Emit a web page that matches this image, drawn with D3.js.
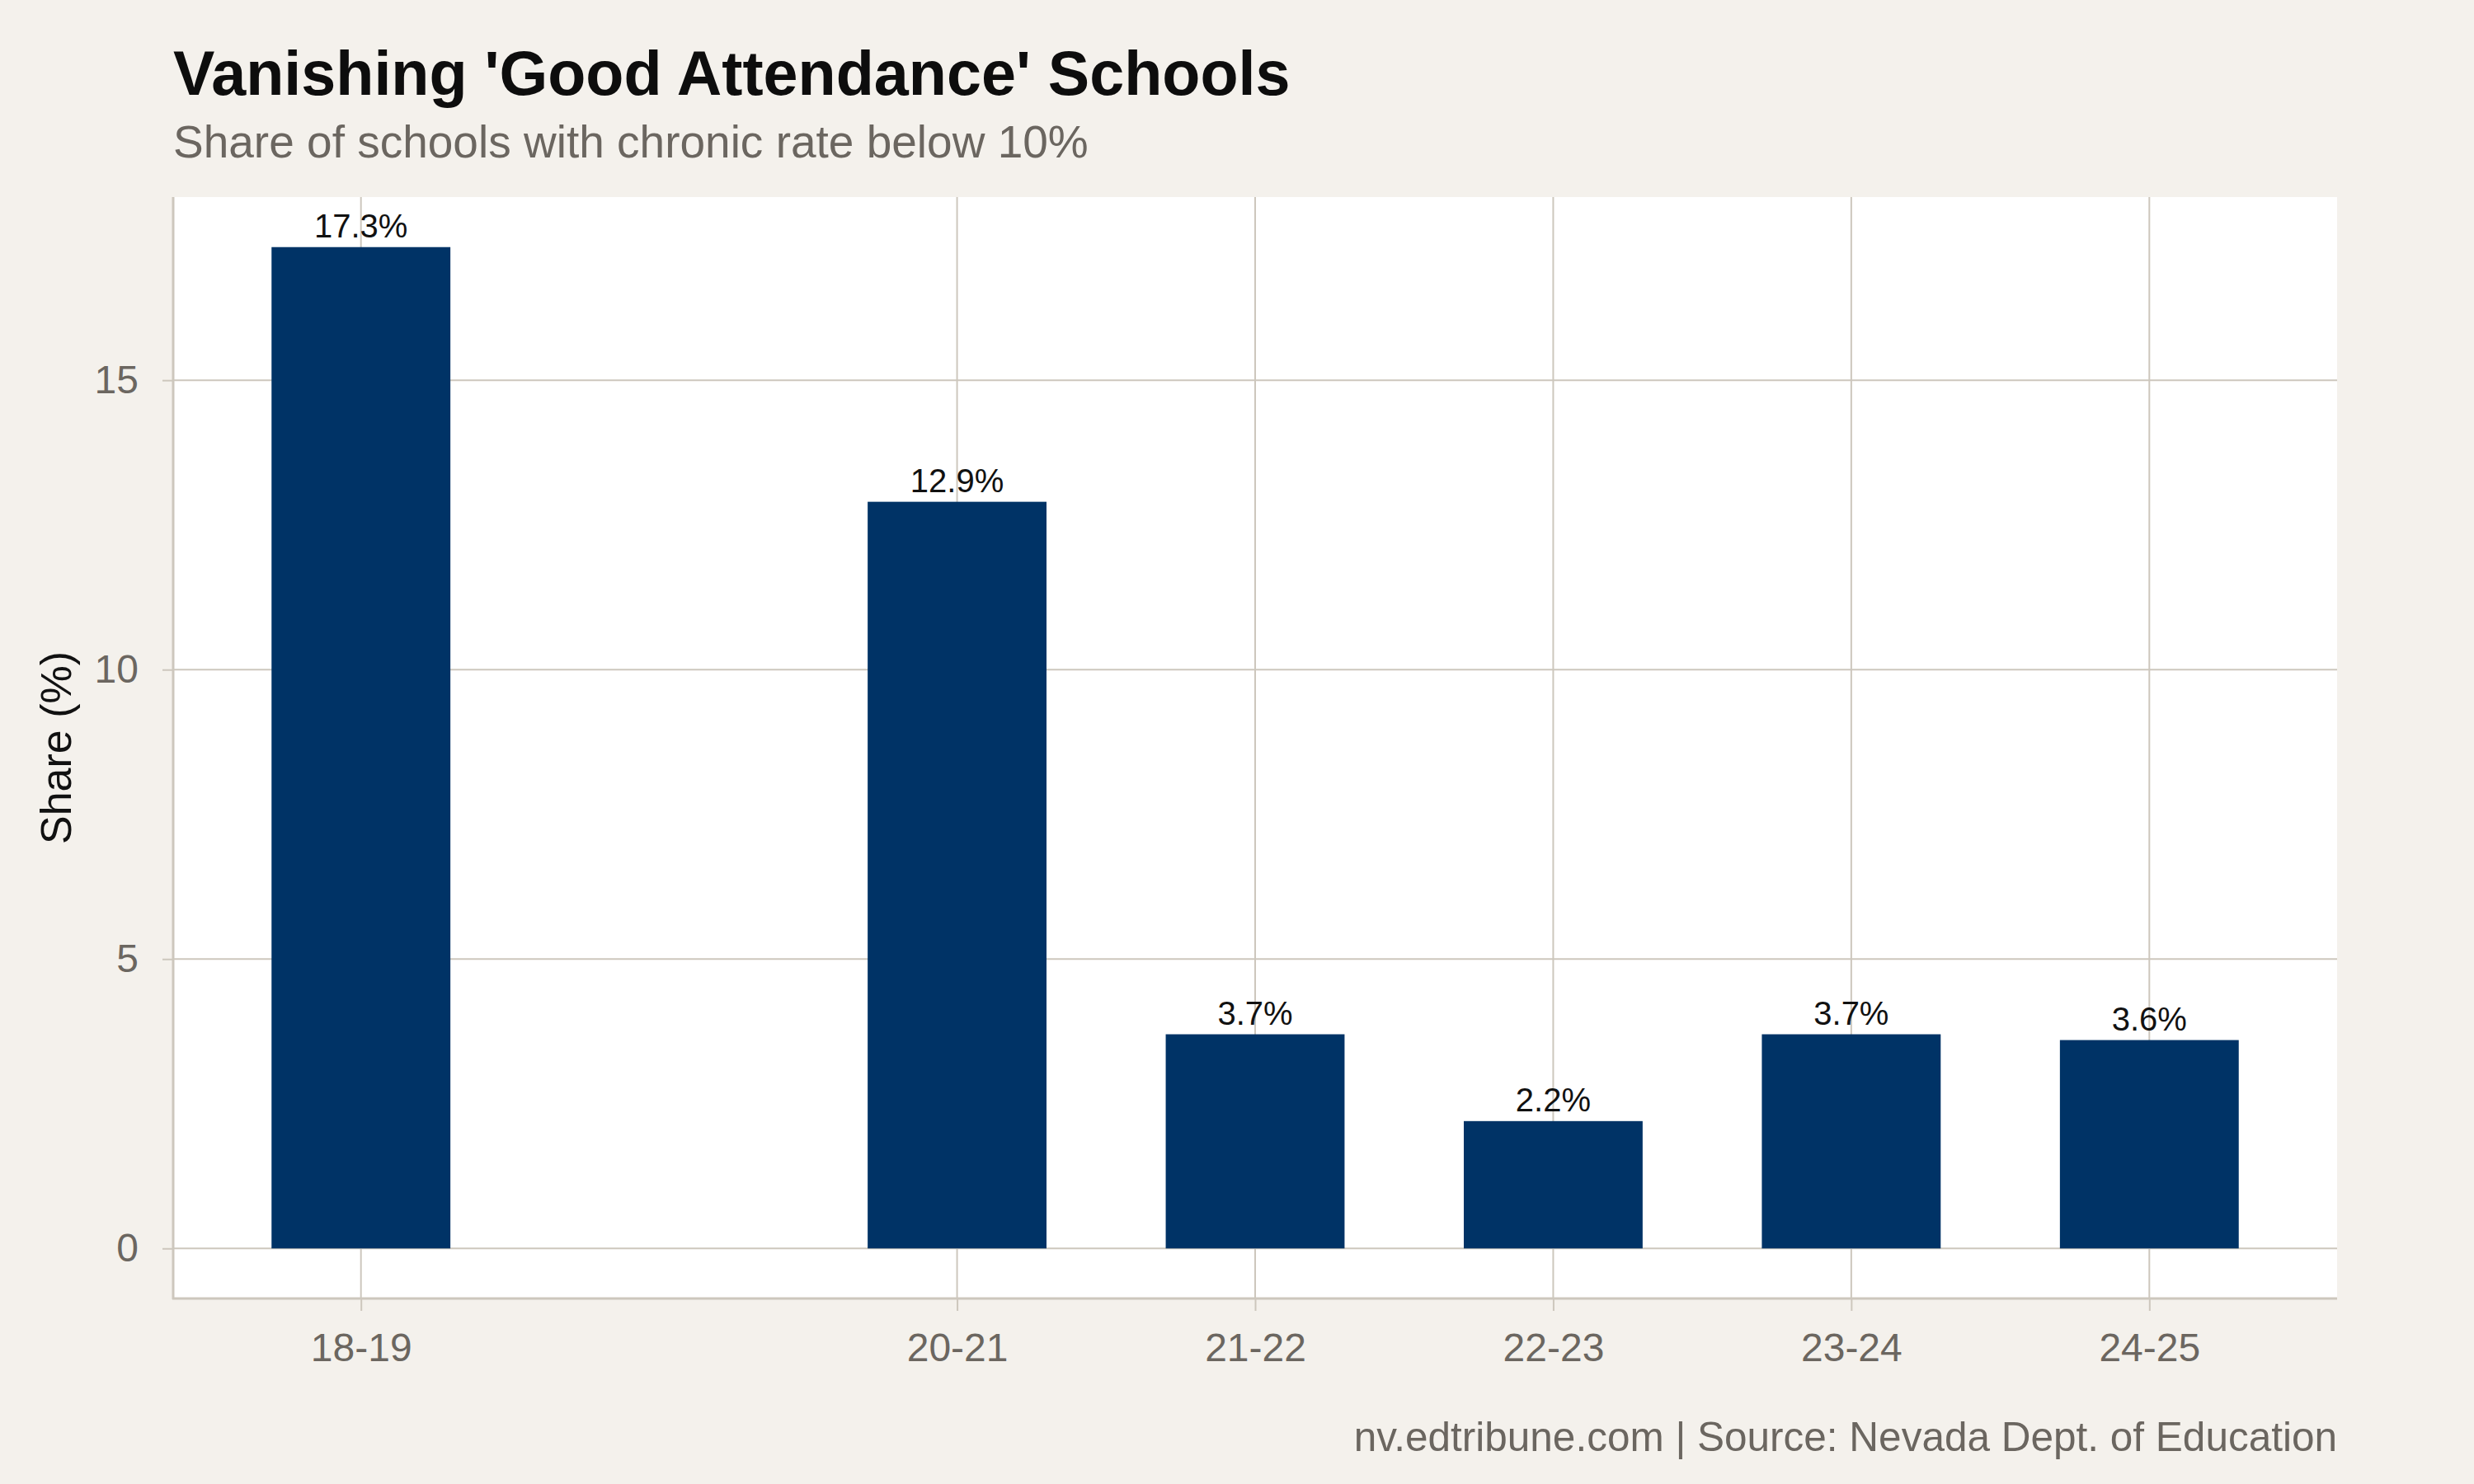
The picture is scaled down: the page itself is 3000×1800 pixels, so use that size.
<!DOCTYPE html>
<html>
<head>
<meta charset="utf-8">
<script src="https://cdn.jsdelivr.net/npm/d3@7"></script>
<style>
  html, body { margin: 0; padding: 0; background: #f4f1ec; }
  svg { display: block; font-family: "Liberation Sans", Arial, Helvetica, sans-serif; }
</style>
</head>
<body>
<div id="chart"></div>
<script>
// school years (label + numeric start year, 19-20 has no data)
const seasons = ["18-19", "20-21", "21-22", "22-23", "23-24", "24-25"];
const startYear = [18, 20, 21, 22, 23, 24];
const share = [17.3, 12.9, 3.7, 2.2, 3.7, 3.6];
const yTicks = [0, 5, 10, 15];

const W = 3000, H = 1800;
const panel = { left: 210, right: 2834, top: 239, bottom: 1575 };
const barW = 0.6;

const data = seasons.map((s, i) => ({ label: s, x: startYear[i], v: share[i] }));

// ggplot-style 5% expansion
const xMin = d3.min(startYear) - barW / 2, xMax = d3.max(startYear) + barW / 2;
const xPad = (xMax - xMin) * 0.05;
const yMax = d3.max(share), yPad = yMax * 0.05;

const x = d3.scaleLinear().domain([xMin - xPad, xMax + xPad]).range([panel.left, panel.right]);
const y = d3.scaleLinear().domain([-yPad, yMax + yPad]).range([panel.bottom, panel.top]);

const gridCol = "#cdc7bd";
const greyTxt = "#6b6660";

const svg = d3.select("#chart").append("svg")
  .attr("width", W).attr("height", H);

svg.append("rect").attr("width", W).attr("height", H).attr("fill", "#f4f1ec");

// panel
svg.append("rect")
  .attr("x", panel.left).attr("y", panel.top)
  .attr("width", panel.right - panel.left)
  .attr("height", panel.bottom - panel.top)
  .attr("fill", "#ffffff");

// grid
svg.append("g").selectAll("line.hg")
  .data(yTicks).enter().append("line")
  .attr("x1", panel.left).attr("x2", panel.right)
  .attr("y1", d => y(d)).attr("y2", d => y(d))
  .attr("stroke", gridCol).attr("stroke-width", 2);

svg.append("g").selectAll("line.vg")
  .data(data).enter().append("line")
  .attr("x1", d => x(d.x)).attr("x2", d => x(d.x))
  .attr("y1", panel.top).attr("y2", panel.bottom)
  .attr("stroke", gridCol).attr("stroke-width", 2);

// bars
const bw = x(barW) - x(0);
svg.append("g").selectAll("rect")
  .data(data).enter().append("rect")
  .attr("x", d => x(d.x) - bw / 2)
  .attr("y", d => y(d.v))
  .attr("width", bw)
  .attr("height", d => y(0) - y(d.v))
  .attr("fill", "#003366");

// bar labels
svg.append("g").selectAll("text")
  .data(data).enter().append("text")
  .attr("x", d => x(d.x))
  .attr("y", d => y(d.v) - 12)
  .attr("text-anchor", "middle")
  .attr("font-size", 40)
  .attr("fill", "#111")
  .text(d => d.v.toFixed(1) + "%");

// axes
const yAxis = svg.append("g")
  .attr("transform", `translate(${panel.left},0)`)
  .call(d3.axisLeft(y).tickValues(yTicks).tickSize(13).tickPadding(29));
const xAxis = svg.append("g")
  .attr("transform", `translate(0,${panel.bottom})`)
  .call(d3.axisBottom(x).tickValues(startYear).tickFormat((d, i) => seasons[i]).tickSize(15).tickPadding(27));

[yAxis, xAxis].forEach(a => {
  a.select(".domain").attr("stroke", gridCol).attr("stroke-width", 3);
  a.selectAll(".tick line").attr("stroke", gridCol).attr("stroke-width", 2);
  a.selectAll(".tick text")
    .attr("fill", greyTxt)
    .attr("font-size", 48)
    .attr("font-family", "Liberation Sans, Arial, sans-serif");
});
// domain without outer ticks, spanning full panel
yAxis.select(".domain").attr("d", `M0,${panel.top}V${panel.bottom + 1}`);
xAxis.select(".domain").attr("d", `M${panel.left - 1},0H${panel.right}`);

// y axis title
svg.append("text")
  .attr("transform", `translate(86,${(panel.top + panel.bottom) / 2}) rotate(-90)`)
  .attr("text-anchor", "middle")
  .attr("font-size", 52)
  .attr("fill", "#111")
  .text("Share (%)");

// title / subtitle / caption
svg.append("text")
  .attr("x", panel.left).attr("y", 115)
  .attr("font-size", 75.5).attr("font-weight", "700").attr("fill", "#0d0d0d")
  .text("Vanishing 'Good Attendance' Schools");

svg.append("text")
  .attr("x", panel.left).attr("y", 191)
  .attr("font-size", 55).attr("fill", greyTxt)
  .text("Share of schools with chronic rate below 10%");

svg.append("text")
  .attr("x", panel.right).attr("y", 1760)
  .attr("text-anchor", "end")
  .attr("font-size", 49.5).attr("fill", greyTxt)
  .text("nv.edtribune.com | Source: Nevada Dept. of Education");
</script>
</body>
</html>
